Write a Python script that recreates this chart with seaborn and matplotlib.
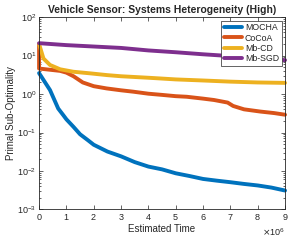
import matplotlib
matplotlib.use("Agg")
import matplotlib.pyplot as plt
from matplotlib.ticker import ScalarFormatter, LogLocator, NullFormatter
import seaborn as sns
import pandas as pd

# Series (x in millions of time units)
mocha_x = [0, 0.4, 0.7, 0.89, 1.0, 1.26, 1.5, 1.8, 2.0, 2.5, 3.0, 3.5, 4.0, 4.5, 5.0, 5.5, 6.0, 6.5, 7.0, 7.5,
           8.0, 8.5, 9.0]
mocha_y = [3.5, 1.27, 0.42, 0.28, 0.22, 0.14, 0.09, 0.062, 0.048, 0.032, 0.024, 0.017, 0.013, 0.011, 0.0087,
           0.0074, 0.0062, 0.0056, 0.0051, 0.0046, 0.0042, 0.0037, 0.0031]

cocoa_x = [0, 0, 0.77, 1.0, 1.26, 1.6, 2.0, 2.47, 3.0, 3.45, 4.0, 4.5, 5.0, 5.4, 6.0, 6.4, 6.9, 7.1, 7.5, 8.1,
           8.6, 9.0]
cocoa_y = [20, 4.6, 4.0, 3.6, 2.9, 2.0, 1.6, 1.40, 1.25, 1.15, 1.02, 0.95, 0.88, 0.85, 0.76, 0.70, 0.60, 0.49,
           0.40, 0.35, 0.32, 0.29]

mbcd_x = [0, 0.16, 0.4, 0.77, 1.25, 1.87, 2.5, 3.0, 4.0, 4.4, 5.0, 6.0, 7.0, 8.0, 9.0]
mbcd_y = [20, 8.4, 5.7, 4.4, 3.8, 3.45, 3.1, 2.9, 2.65, 2.55, 2.4, 2.25, 2.1, 2.0, 1.95]

mbsgd_x = [0, 1, 2, 3, 4, 5, 6, 7, 8, 9]
mbsgd_y = [21, 18.7, 17.2, 15.8, 13.6, 12.2, 10.8, 9.7, 8.6, 7.6]

methods = ["MOCHA", "CoCoA", "Mb-CD", "Mb-SGD"]
colors = ["#0072BD", "#D95319", "#EDB120", "#7E2F8E"]

frames = []
for name, xs, ys in zip(methods, [mocha_x, cocoa_x, mbcd_x, mbsgd_x], [mocha_y, cocoa_y, mbcd_y, mbsgd_y]):
    frames.append(pd.DataFrame({"time": [v * 1e6 for v in xs], "subopt": ys, "method": name}))
df = pd.concat(frames, ignore_index=True)

sns.set_style("ticks")
plt.rcParams["font.family"] = ["Liberation Sans", "DejaVu Sans"]
grey = "#262626"

fig = plt.figure(figsize=(2.96, 2.41), dpi=100)
ax = fig.add_axes([0.132, 0.131, 0.831, 0.798])

sns.lineplot(data=df, x="time", y="subopt", hue="method", palette=colors, hue_order=methods,
             estimator=None, sort=False, linewidth=2.8, ax=ax)
# let the strokes sit over the axis line like the original
for line in ax.lines:
    line.set_clip_on(False)

ax.set_yscale("log")
ax.set_xlim(0, 9e6)
ax.set_ylim(1e-3, 1e2)
ax.set_xticks([i * 1e6 for i in range(10)])
fmt = ScalarFormatter(useMathText=True)
fmt.set_powerlimits((0, 0))
ax.xaxis.set_major_formatter(fmt)
ax.yaxis.set_major_locator(LogLocator(base=10, numticks=10))
ax.yaxis.set_minor_locator(LogLocator(base=10, subs=range(2, 10), numticks=10))
ax.yaxis.set_minor_formatter(NullFormatter())

for side in ["top", "right", "left", "bottom"]:
    ax.spines[side].set_visible(True)
    ax.spines[side].set_color(grey)
    ax.spines[side].set_linewidth(0.6)
ax.tick_params(which="both", direction="in", top=True, right=True, colors=grey,
               labelsize=6.5, width=0.5, pad=2)
ax.tick_params(which="major", length=3)
ax.tick_params(which="minor", length=1.6)
ax.xaxis.get_offset_text().set_fontsize(6.5)
ax.xaxis.get_offset_text().set_color(grey)

ax.set_xlabel("Estimated Time", fontsize=7, color=grey, labelpad=1)
ax.set_ylabel("Primal Sub-Optimality", fontsize=7, color=grey, labelpad=1)
ax.set_title("Vehicle Sensor: Systems Heterogeneity (High)", fontsize=7.5, fontweight="bold", pad=3)

leg = ax.legend(loc="upper right", fontsize=6.3, frameon=True, fancybox=False, handlelength=2.1,
                borderpad=0.3, labelspacing=0.15, handletextpad=0.3, borderaxespad=0.4)
leg.get_frame().set_edgecolor(grey)
leg.get_frame().set_linewidth(0.5)
leg.get_frame().set_alpha(1)
for line in leg.get_lines():
    line.set_linewidth(2.8)

fig.savefig("out.png", dpi=100)
